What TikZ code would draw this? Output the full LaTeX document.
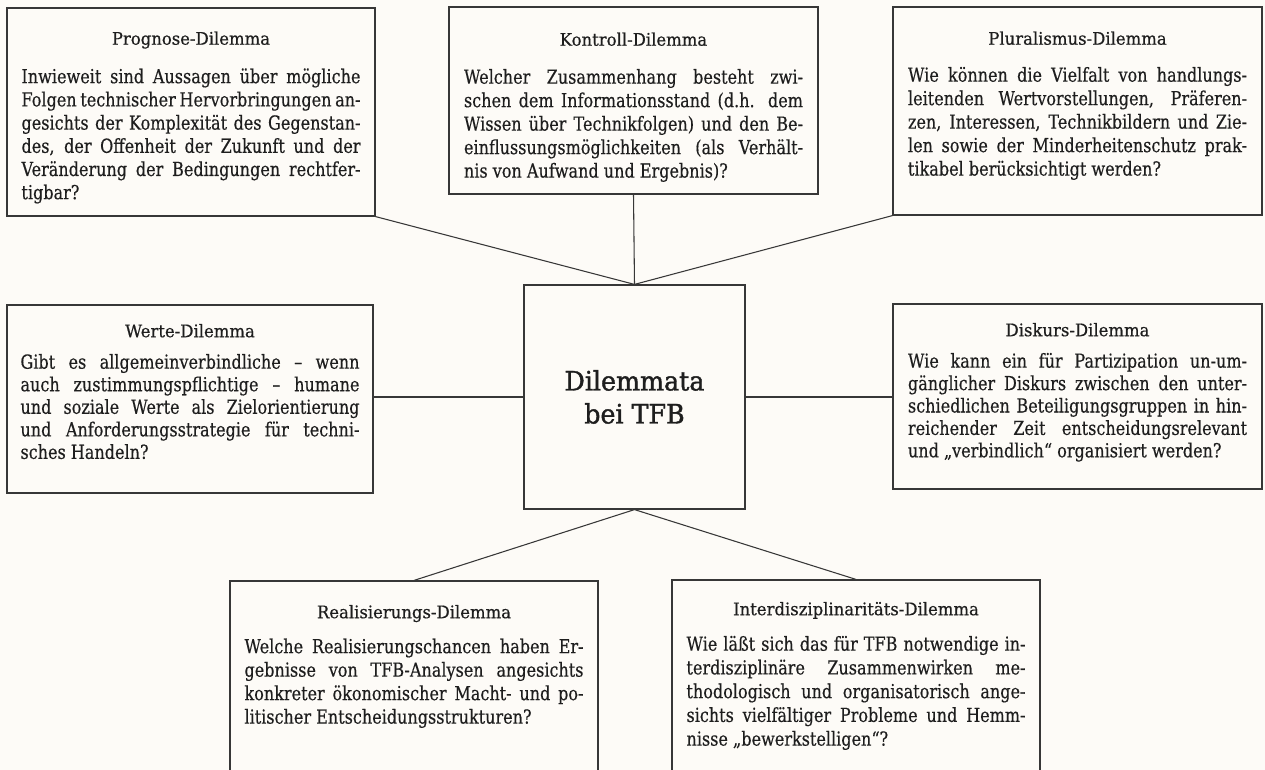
\documentclass[tikz,border=0pt]{standalone}
\usepackage{fontspec}
\setmainfont{DejaVu Serif}
\newfontfamily\dlbodyfont{DejaVu Serif}[FakeStretch=0.83,FakeBold=0.4]
\newfontfamily\dltitlefont{DejaVu Serif}[FakeStretch=0.95,FakeBold=0.6]
\newfontfamily\dlcenterfont{DejaVu Serif}[FakeStretch=0.95,FakeBold=1.4]
\usetikzlibrary{fit,calc}
\definecolor{bg}{RGB}{253,251,247}
\definecolor{ln}{RGB}{55,55,55}
\definecolor{tx}{RGB}{30,30,30}
\newlength\dlw
\setlength\dlw{254.25pt}
% #1 = line pitch (pt), #2 = title-to-body baseline distance (px), #3 = title
\newcommand\dltitle[3]{\baselineskip=#1pt\relax
  \hbox to\hsize{\hss\rule{0pt}{13pt}{\dltitlefont\fontsize{13}{15}\selectfont #3}\hss}%
  \vskip\dimexpr #2pt*3/4-\baselineskip\relax}
\newcommand\dlj[1]{\hbox to\hsize{#1}}
\newcommand\dll[1]{\hbox{#1}}
\begin{document}
\begin{tikzpicture}[x=0.75pt,y=-0.75pt,
  dbox/.style={draw=ln, line width=0.9pt, fill=bg, inner sep=0pt},
  conn/.style={draw=ln, line width=0.8pt},
  txt/.style={text=tx, inner sep=0pt, anchor=north, font=\dlbodyfont\fontsize{14.5}{18}\selectfont}]
\fill[bg] (0,0) rectangle (1265,770);
\useasboundingbox (0,0) rectangle (1265,770);
\clip (0,0) rectangle (1265,770);

\node[dbox, fit={(7,8) (375,216)}] (P) {};
\node[dbox, fit={(449,7) (818,194)}] (K) {};
\node[dbox, fit={(893,7) (1262,215)}] (PL) {};
\node[dbox, fit={(7,305) (373,493)}] (W) {};
\node[dbox, fit={(524,285) (745,509)}] (C) {};
\node[dbox, fit={(893,304) (1262,489)}] (D) {};
\node[dbox, fit={(230,581) (598,800)}] (R) {};
\node[dbox, fit={(672,580) (1040,800)}] (I) {};

\draw[conn] (P.south east) -- (C.north);
\draw[conn] (K.south) -- (C.north);
\draw[conn] (PL.south west) -- (C.north);
\draw[conn] (W.east |- C.west) -- (C.west);
\draw[conn] (C.east) -- (D.west |- C.east);
\draw[conn] (C.south) -- (R.north);
\draw[conn] (C.south) -- (I.north);

\node[txt] (Pt) at ($(P.north)+(0,19.7)$) {\vbox{\hsize=\dlw
\dltitle{17.4}{38.5}{Prognose-Dilemma}
\dlj{Inwieweit sind Aussagen über mögliche}
\dlj{Folgen technischer Hervorbringungen an-}
\dlj{gesichts der Komplexität des Gegenstan-}
\dlj{des, der Offenheit der Zukunft und der}
\dlj{Veränderung der Bedingungen rechtfer-}
\dll{tigbar?}}};

\node[txt] (Kt) at ($(K.north)+(0,21.7)$) {\vbox{\hsize=\dlw
\dltitle{17.6}{38}{Kontroll-Dilemma}
\dlj{Welcher Zusammenhang besteht zwi-}
\dlj{schen dem Informationsstand (d.h. dem}
\dlj{Wissen über Technikfolgen) und den Be-}
\dlj{einflussungsmöglichkeiten (als Verhält-}
\dll{nis von Aufwand und Ergebnis)?}}};

\node[txt] (PLt) at ($(PL.north)+(0,20.7)$) {\vbox{\hsize=\dlw
\dltitle{17.6}{37}{Pluralismus-Dilemma}
\dlj{Wie können die Vielfalt von handlungs-}
\dlj{leitenden Wertvorstellungen, Präferen-}
\dlj{zen, Interessen, Technikbildern und Zie-}
\dlj{len sowie der Minderheitenschutz prak-}
\dll{tikabel berücksichtigt werden?}}};

\node[txt] (Wt) at ($(W.north)+(0,15.2)$) {\vbox{\hsize=\dlw
\dltitle{16.9}{31.5}{Werte-Dilemma}
\dlj{Gibt es allgemeinverbindliche – wenn}
\dlj{auch zustimmungspflichtige – humane}
\dlj{und soziale Werte als Zielorientierung}
\dlj{und Anforderungsstrategie für techni-}
\dll{sches Handeln?}}};

\node[txt] (Dt) at ($(D.north)+(0,15.2)$) {\vbox{\hsize=\dlw
\dltitle{16.8}{31.5}{Diskurs-Dilemma}
\dlj{Wie kann ein für Partizipation un-um-}
\dlj{gänglicher Diskurs zwischen den unter-}
\dlj{schiedlichen Beteiligungsgruppen in hin-}
\dlj{reichender Zeit entscheidungsrelevant}
\dll{und „verbindlich“ organisiert werden?}}};

\node[txt] (Rt) at ($(R.north)+(0,20.2)$) {\vbox{\hsize=\dlw
\dltitle{17.6}{35}{Realisierungs-Dilemma}
\dlj{Welche Realisierungschancen haben Er-}
\dlj{gebnisse von TFB-Analysen angesichts}
\dlj{konkreter ökonomischer Macht- und po-}
\dll{litischer Entscheidungsstrukturen?}}};

\node[txt] (It) at ($(I.north)+(0,18.2)$) {\vbox{\hsize=\dlw
\dltitle{17.8}{35.5}{Interdisziplinaritäts-Dilemma}
\dlj{Wie läßt sich das für TFB notwendige in-}
\dlj{terdisziplinäre Zusammenwirken me-}
\dlj{thodologisch und organisatorisch ange-}
\dlj{sichts vielfältiger Probleme und Hemm-}
\dll{nisse „bewerkstelligen“?}}};

\node[text=tx, align=center, font=\dlcenterfont\fontsize{20}{24.75}\selectfont] (Ct) at (C.center) {Dilemmata\\bei TFB};
\end{tikzpicture}
\end{document}
